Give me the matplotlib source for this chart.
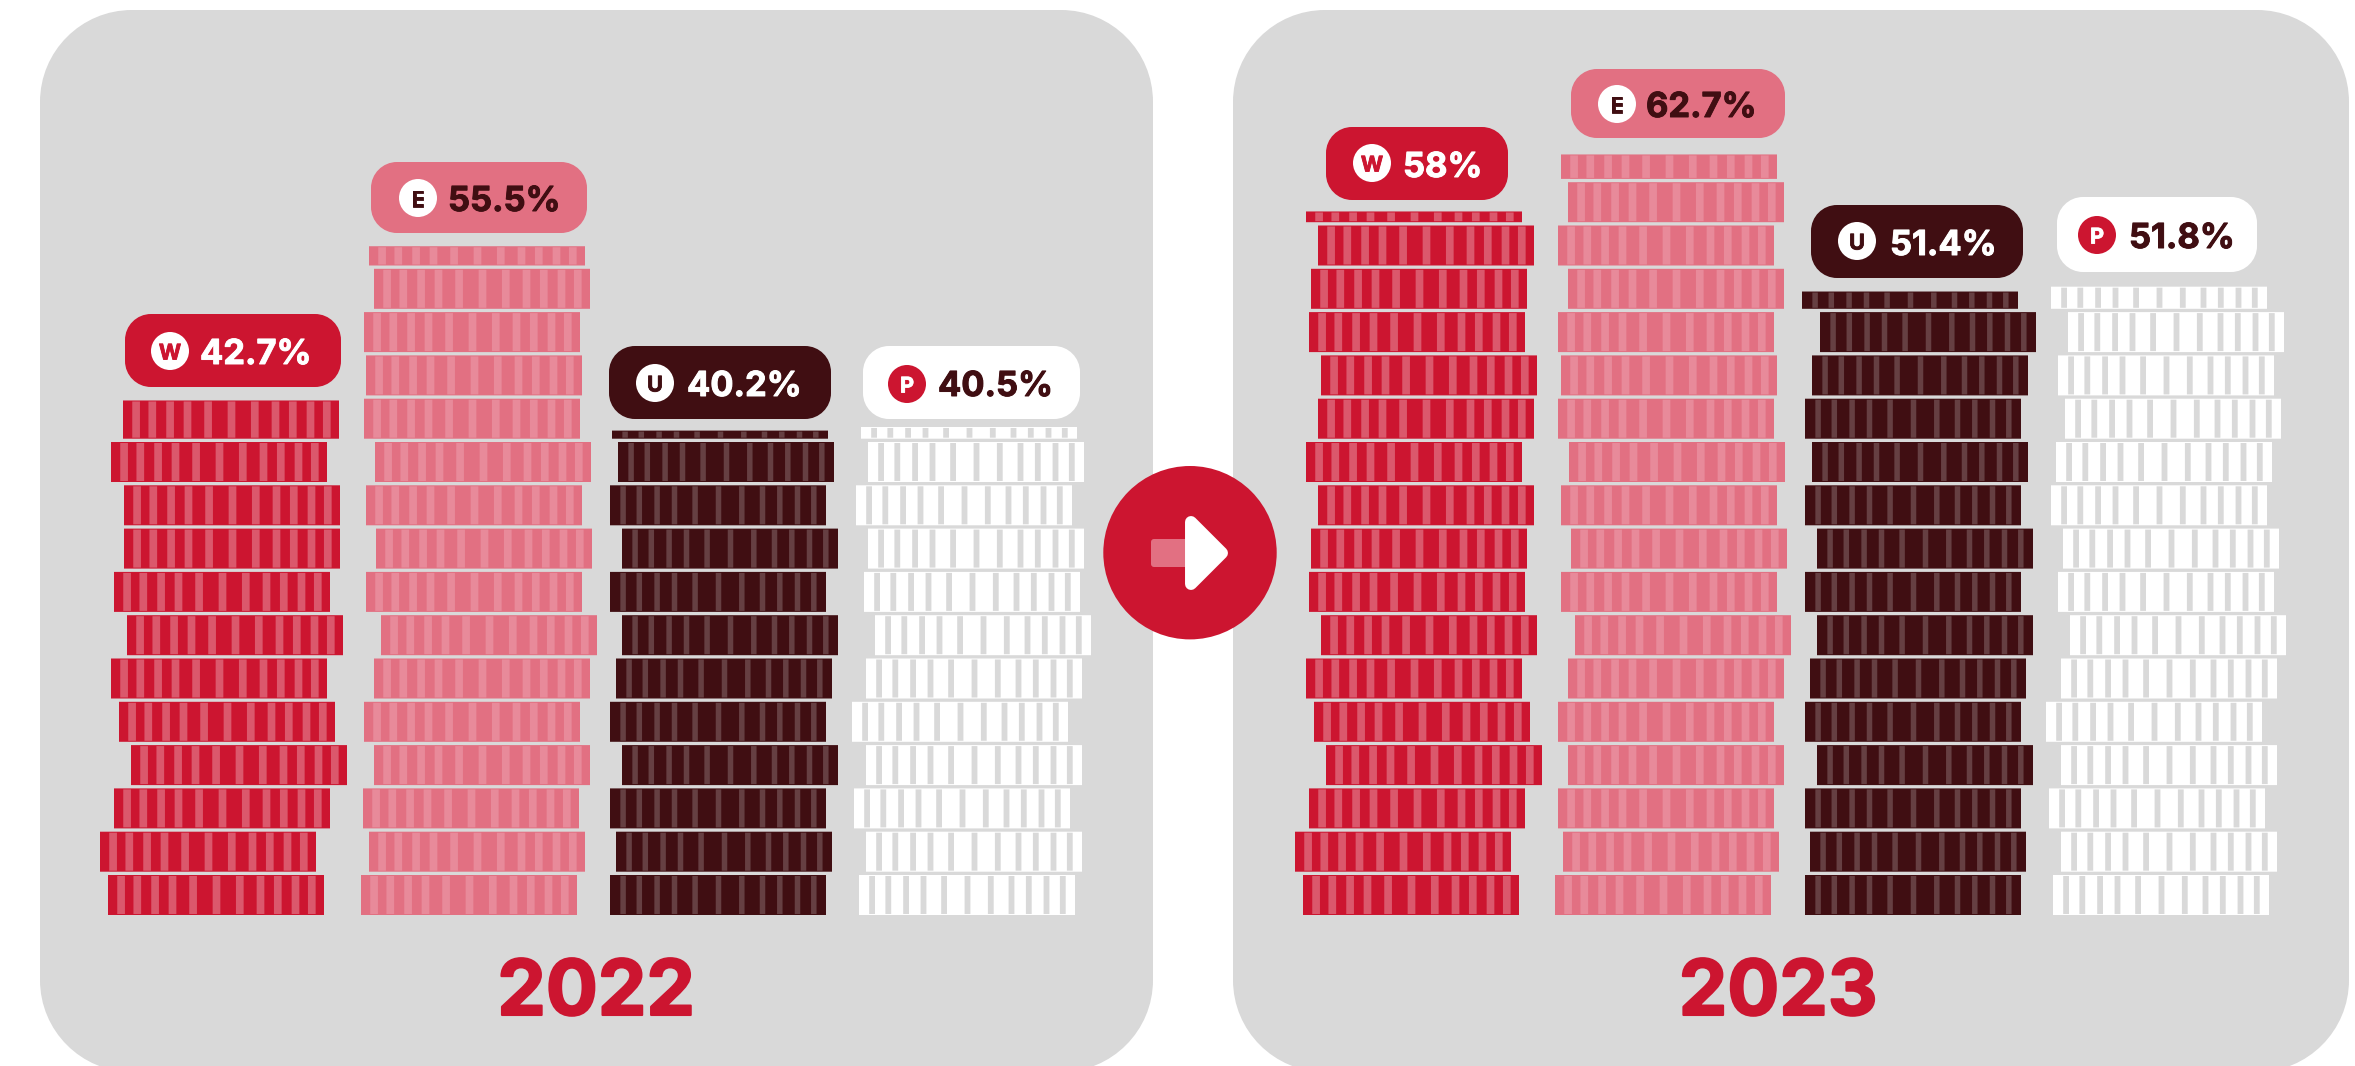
import matplotlib
matplotlib.use("Agg")
import matplotlib.pyplot as plt
import matplotlib.patheffects as pe
from matplotlib.path import Path
from matplotlib.patches import PathPatch, FancyBboxPatch, Circle, Polygon

plt.rcParams['font.family'] = ['Inter', 'Lato', 'DejaVu Sans']

# ---- data ----
years = ["2022", "2023"]
letters = ["W", "E", "U", "P"]
values_2022 = [42.7, 55.5, 40.2, 40.5]
values_2023 = [58, 62.7, 51.4, 51.8]

# ---- layout: left edge (px) of every coin, bottom to top ----
coins_2022_w = [108, 100, 114, 131, 119, 111, 127, 114, 124, 124, 111, 123]
coins_2022_e = [361, 369, 363, 374, 364, 374, 381, 366, 376, 366, 375, 364, 366, 364, 374, 369]
coins_2022_u = [610, 616, 610, 622, 610, 616, 622, 610, 622, 610, 618, 612]
coins_2022_p = [859, 866, 854, 866, 852, 866, 875, 864, 868, 856, 868, 861]
coins_2023_w = [1303, 1295, 1309, 1326, 1314, 1306, 1321, 1309, 1311, 1318, 1306, 1318, 1321, 1309, 1311, 1318, 1306]
coins_2023_e = [1555, 1563, 1558, 1568, 1558, 1568, 1575, 1561, 1571, 1561, 1569, 1558, 1561, 1558, 1568, 1558, 1568, 1561]
coins_2023_u = [1805, 1810, 1805, 1817, 1805, 1810, 1817, 1805, 1817, 1805, 1812, 1805, 1812, 1820, 1802]
coins_2023_p = [2053, 2061, 2049, 2061, 2046, 2061, 2070, 2058, 2063, 2051, 2056, 2065, 2058, 2068, 2051]
stripe_centres = [13.1, 29.3, 47.1, 64.5, 85.1, 108.5, 131.8, 152.5, 169.8, 187.5, 203.8]

RED, PINK, DARK, WHITE, GREY = "#CC1530", "#E27082", "#400E12", "#FFFFFF", "#D9D9D9"
base_cols = [RED, PINK, DARK, WHITE]
stripe_cols = ["#DB586C", "#E88A9A", "#663F42", GREY]
stripe_w = [7.7, 7.7, 5.5, 5.8]
label_cols = [WHITE, DARK, WHITE, DARK]
badge_cols = [WHITE, WHITE, WHITE, RED]
letter_cols = [RED, DARK, DARK, WHITE]

# pill: x0, x1, y0, y1, badge x, badge y, text x
pills_2022 = [(125, 341, 314, 387, 170, 351, 200), (371, 587, 162, 233, 418, 198, 448),
              (609, 831, 346, 419, 655, 383, 687), (863, 1080, 346, 419, 907, 384, 938)]
pills_2023 = [(1326, 1508, 127, 200, 1372, 163, 1403), (1571, 1785, 69, 138, 1617, 104, 1646),
              (1811, 2023, 205, 278, 1857, 241, 1890), (2057, 2257, 197, 272, 2097, 235, 2129)]

W, H = 2355, 1066
BASE_Y, COIN_W, COIN_H, PITCH = 915, 216, 40, 43.3

fig = plt.figure(figsize=(W / 100, H / 100), dpi=100, facecolor="white")


def full_ax(z):
    ax = fig.add_axes([0, 0, 1, 1], zorder=z)
    ax.set_xlim(0, W)
    ax.axis("off")
    ax.patch.set_alpha(0)
    return ax


def rounded(x0, y0, x1, y1, r, color):
    k = 0.5523 * r
    verts = [(x0 + r, y0), (x1 - r, y0),
             (x1 - r + k, y0), (x1, y0 + r - k), (x1, y0 + r),
             (x1, y1 - r),
             (x1, y1 - r + k), (x1 - r + k, y1), (x1 - r, y1),
             (x0 + r, y1),
             (x0 + r - k, y1), (x0, y1 - r + k), (x0, y1 - r),
             (x0, y0 + r),
             (x0, y0 + r - k), (x0 + r - k, y0), (x0 + r, y0),
             (x0 + r, y0)]
    codes = [Path.MOVETO, Path.LINETO,
             Path.CURVE4, Path.CURVE4, Path.CURVE4,
             Path.LINETO,
             Path.CURVE4, Path.CURVE4, Path.CURVE4,
             Path.LINETO,
             Path.CURVE4, Path.CURVE4, Path.CURVE4,
             Path.LINETO,
             Path.CURVE4, Path.CURVE4, Path.CURVE4,
             Path.CLOSEPOLY]
    return PathPatch(Path(verts, codes), fc=color, ec="none", lw=0)


deco = full_ax(0)
deco.set_ylim(H, 0)

# panels (run off the bottom of the picture)
for x0, x1 in [(40, 1153), (1233, 2349)]:
    deco.add_patch(rounded(x0, 10, x1, 1072, 92, GREY))


def bold(ax, x, y, s, color, size, stroke, **kw):
    ax.text(x, y, s, color=color, fontsize=size, fontweight="bold",
            path_effects=[pe.withStroke(linewidth=stroke, foreground=color)], **kw)


def draw_year(values, stacks, pills, scale, year, year_x):
    ax = full_ax(1)
    ax.set_ylim(-(H - BASE_Y) / scale, BASE_Y / scale)
    pitch, coin, inset = PITCH / scale, COIN_H / scale, 1 / scale
    for k, (v, lefts) in enumerate(zip(values, stacks)):
        for i, left in enumerate(lefts):
            y0 = i * pitch
            if y0 >= v:
                continue
            y1 = min(y0 + coin, v)
            ax.bar(left, y1 - y0, COIN_W, bottom=y0, align="edge", color=base_cols[k], lw=0, snap=False)
            ax.bar([left + c for c in stripe_centres], y1 - y0 - 2 * inset, stripe_w[k],
                   bottom=y0 + inset, color=stripe_cols[k], lw=0, snap=False)
        x0, x1, y0, y1, bx, by, tx = pills[k]
        deco.add_patch(rounded(x0, y0, x1, y1, 26, base_cols[k]))
        deco.add_patch(Circle((bx, by), 19, fc=badge_cols[k], ec="none"))
        bold(deco, bx, by + 0.5, letters[k], letter_cols[k], 15.5, 0.6, ha="center", va="center_baseline")
        bold(deco, tx, (y0 + y1) / 2 + 1, f"{v:g}%", label_cols[k], 24.8, 0.7, ha="left", va="center_baseline")
    bold(deco, year_x, 1015, year, RED, 55.5, 1.5, ha="center", va="baseline")


draw_year(values_2022, [coins_2022_w, coins_2022_e, coins_2022_u, coins_2022_p], pills_2022, 12.05, years[0], 596)
draw_year(values_2023, [coins_2023_w, coins_2023_e, coins_2023_u, coins_2023_p], pills_2023, 12.13, years[1], 1778)

# arrow badge
deco.add_patch(Circle((1190, 552.7), 86.7, fc=RED, ec="none"))
deco.add_patch(FancyBboxPatch((1154, 542), 40, 22, boxstyle="round,pad=3,rounding_size=3", fc=PINK, ec="none"))
deco.add_patch(Polygon([(1191, 522), (1191, 584), (1222, 553)], closed=True, fc=WHITE, ec=WHITE,
                       lw=8.6, joinstyle="round"))

fig.savefig("out.png", dpi=100, facecolor="white")
